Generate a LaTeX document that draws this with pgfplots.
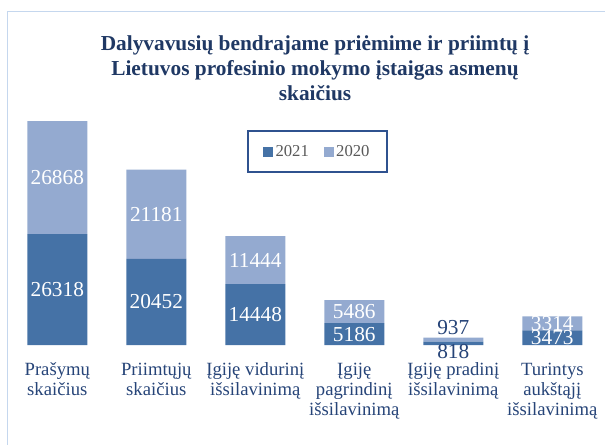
\documentclass[border=0pt]{standalone}
\usepackage{pgfplots}
\pgfplotsset{compat=1.18}
\usepackage{pgfplotstable}
\usepackage{fontspec}
\setmainfont{Liberation Serif}
\definecolor{cdark}{RGB}{69,114,166}
\definecolor{clight}{RGB}{148,170,208}
\definecolor{ctitle}{RGB}{31,56,100}
\definecolor{ctext}{RGB}{38,68,120}
\definecolor{cframe}{RGB}{197,215,238}
\definecolor{clegend}{RGB}{47,82,143}
\definecolor{cgray}{RGB}{89,89,89}

\pgfplotstableread{
x a2021 a2020
0 26318 26868
1 20452 21181
2 14448 11444
3 5186 5486
4 818 937
5 3473 3314
}\datatable

\newcommand\fl{\rule{0pt}{13pt}}
\pgfplotsset{
  base/.style={
    scale only axis,
    at={(5.85pt,74.25pt)}, anchor=south west,
    width=445.5pt, height=189.45pt,
    xmin=-0.5, xmax=5.5, ymin=0, ymax=60000,
    clip=false,
  },
}
\begin{document}
\begin{tikzpicture}
\path[use as bounding box] (0,0) rectangle (453.75pt,333pt);
\draw[cframe, line width=1.1pt] (5.8pt,-5pt) -- (5.8pt,324.3pt) -- (460pt,324.3pt);
\begin{scope}[every node/.style={text=ctitle, font=\fontsize{16}{18.75}\selectfont\bfseries, anchor=base, inner sep=0pt}]
\node at (236.25pt,295.5pt) {Dalyvavusių bendrajame priėmime ir priimtų į};
\node at (236.25pt,276.75pt) {Lietuvos profesinio mokymo įstaigas asmenų};
\node at (236.25pt,258pt) {skaičius};
\end{scope}

\begin{axis}[base,
  ybar stacked, bar width=45pt,
  axis line style={draw=none}, tick style={draw=none},
  ytick=\empty,
  xtick={0,...,5},
  xticklabels={{\fl Prašymų\\skaičius},{\fl Priimtųjų\\skaičius},{\fl Įgiję vidurinį\\išsilavinimą},{\fl Įgiję\\pagrindinį\\išsilavinimą},{\fl Įgiję pradinį\\išsilavinimą},{\fl Turintys\\aukštąjį\\išsilavinimą}},
  xticklabel style={align=center, anchor=north, inner sep=0pt, yshift=-9.5pt, text=ctext, font=\fontsize{14}{15}\selectfont},
  legend columns=2,
  legend style={at={(0.5214,0.766)}, anchor=center, draw=clegend, line width=1.2pt,
    font=\fontsize{12.5}{14}\selectfont, text=cgray, inner xsep=11pt, inner ysep=8.5pt,
    nodes={inner sep=2pt},
    /tikz/every even column/.append style={column sep=9pt}},
  legend image code/.code={\fill[#1] (0pt,-3.75pt) rectangle (7.5pt,3.75pt);},
]
\addplot[fill=cdark, draw=none] table[x=x,y=a2021]{\datatable};
\addplot[fill=clight, draw=none] table[x=x,y=a2020]{\datatable};
\legend{2021,2020}
\end{axis}

\begin{axis}[base, hide axis,
  nodes near coords, point meta=explicit symbolic,
  every node near coord/.append style={anchor=center, font=\fontsize{16}{18}\selectfont, text=white},
]
\addplot[only marks, mark size=0pt, mark options={draw=none,fill=none}, skip coords between index={4}{5}]
  table[x=x, y expr=\thisrow{a2021}/2, meta=a2021]{\datatable};
\addplot[only marks, mark size=0pt, mark options={draw=none,fill=none}, skip coords between index={4}{5}]
  table[x=x, y expr=\thisrow{a2021}+\thisrow{a2020}/2, meta=a2020]{\datatable};
\addplot[only marks, mark size=0pt, mark options={draw=none,fill=none}, restrict x to domain=3.5:4.5,
  every node near coord/.append style={text=ctext, yshift=-5.8pt}]
  table[x=x, y expr=\thisrow{a2021}/2, meta=a2021]{\datatable};
\addplot[only marks, mark size=0pt, mark options={draw=none,fill=none}, restrict x to domain=3.5:4.5,
  every node near coord/.append style={text=ctext, yshift=8.7pt}]
  table[x=x, y expr=\thisrow{a2021}+\thisrow{a2020}/2, meta=a2020]{\datatable};
\end{axis}
\end{tikzpicture}
\end{document}
